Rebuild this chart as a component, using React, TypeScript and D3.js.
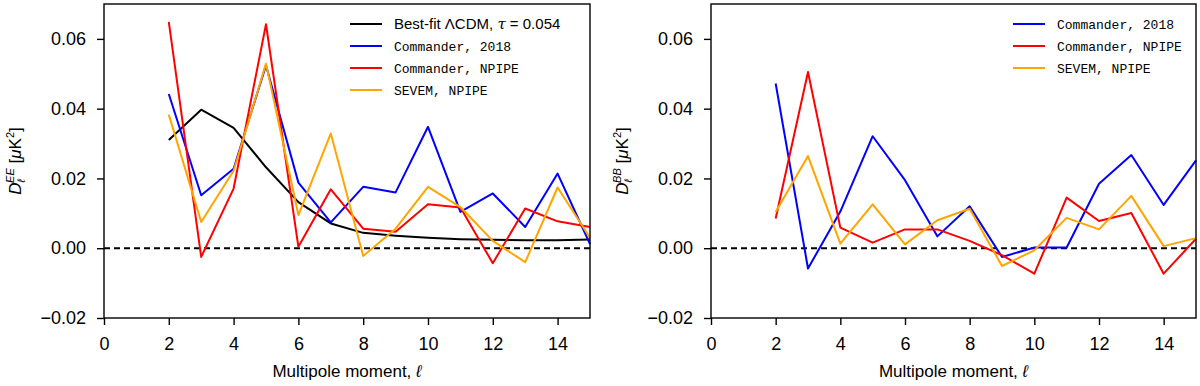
import React, { useRef, useEffect } from "react";
import * as d3 from "d3";

// multipoles
const ell = d3.range(2, 16);

// EE spectra
const eeLcdm = [0.031, 0.0397, 0.0345, 0.0232, 0.0132, 0.0071, 0.0044, 0.0036, 0.003, 0.0026, 0.0024, 0.0023, 0.0023, 0.0025];
const eeComm2018 = [0.0442, 0.0152, 0.0228, 0.0524, 0.0188, 0.0074, 0.0176, 0.016, 0.0348, 0.0104, 0.0157, 0.0061, 0.0214, 0.0012];
const eeCommNpipe = [0.0649, -0.0025, 0.0171, 0.0642, 0.0004, 0.0169, 0.0056, 0.0047, 0.0126, 0.0117, -0.0043, 0.0114, 0.0077, 0.0061];
const eeSevemNpipe = [0.0383, 0.0075, 0.0222, 0.0529, 0.0095, 0.0329, -0.0022, 0.0056, 0.0176, 0.0118, 0.0021, -0.004, 0.0174, 0.003];

// BB spectra
const bbComm2018 = [0.0472, -0.0058, 0.0105, 0.0321, 0.0195, 0.0034, 0.012, -0.0025, 0.0002, 0.0002, 0.0185, 0.0267, 0.0124, 0.0252];
const bbCommNpipe = [0.0085, 0.0505, 0.0059, 0.0016, 0.0054, 0.0054, 0.0021, -0.002, -0.0073, 0.0145, 0.0078, 0.0101, -0.0073, 0.0027];
const bbSevemNpipe = [0.0104, 0.0264, 0.0013, 0.0126, 0.0011, 0.008, 0.0113, -0.0051, -0.0006, 0.0087, 0.0054, 0.015, 0.0006, 0.0029];

const xTicks = [0, 2, 4, 6, 8, 10, 12, 14];
const yTicks = [-0.02, 0.0, 0.02, 0.04, 0.06];

const SANS = "'Liberation Sans', Arial, sans-serif";
const MONO = "'Liberation Mono', 'DejaVu Sans Mono', monospace";

type Series = { label: string; values: number[]; color: string; mono: boolean; math?: boolean };

const panels = [
  {
    left: 104,
    right: 590,
    spec: "EE",
    legendX: 350,
    series: [
      { label: "Best-fit", values: eeLcdm, color: "#000000", mono: false, math: true },
      { label: "Commander, 2018", values: eeComm2018, color: "#0000ff", mono: true },
      { label: "Commander, NPIPE", values: eeCommNpipe, color: "#ff0000", mono: true },
      { label: "SEVEM, NPIPE", values: eeSevemNpipe, color: "#ffa500", mono: true },
    ] as Series[],
  },
  {
    left: 711,
    right: 1196,
    spec: "BB",
    legendX: 1013,
    series: [
      { label: "Commander, 2018", values: bbComm2018, color: "#0000ff", mono: true },
      { label: "Commander, NPIPE", values: bbCommNpipe, color: "#ff0000", mono: true },
      { label: "SEVEM, NPIPE", values: bbSevemNpipe, color: "#ffa500", mono: true },
    ] as Series[],
  },
];

const top = 4;
const bottom = 318;

const App = () => {
  const ref = useRef<SVGSVGElement>(null);

  useEffect(() => {
    const svg = d3.select(ref.current);
    svg.selectAll("*").remove();

    const y = d3.scaleLinear().domain([-0.02, 0.07]).range([bottom, top]);

    panels.forEach((p) => {
      const x = d3.scaleLinear().domain([0, 15]).range([p.left, p.right]);
      const g = svg.append("g");

      // zero line
      g.append("line")
        .attr("x1", p.left)
        .attr("x2", p.right)
        .attr("y1", y(0))
        .attr("y2", y(0))
        .attr("stroke", "#000")
        .attr("stroke-width", 2)
        .attr("stroke-dasharray", "6 4");

      const line = d3
        .line<number>()
        .x((_, i) => x(ell[i]))
        .y((d) => y(d));

      p.series.forEach((s) => {
        g.append("path")
          .attr("d", line(s.values))
          .attr("fill", "none")
          .attr("stroke", s.color)
          .attr("stroke-width", 2)
          .attr("stroke-linejoin", "round");
      });

      // frame
      g.append("rect")
        .attr("x", p.left)
        .attr("y", top)
        .attr("width", p.right - p.left)
        .attr("height", bottom - top)
        .attr("fill", "none")
        .attr("stroke", "#000")
        .attr("stroke-width", 1.4);

      const xAxis = g
        .append("g")
        .attr("transform", `translate(0,${bottom})`)
        .call(d3.axisBottom(x).tickValues(xTicks).tickSize(7).tickPadding(12).tickFormat(d3.format("d")));
      const yAxis = g
        .append("g")
        .attr("transform", `translate(${p.left},0)`)
        .call(
          d3
            .axisLeft(y)
            .tickValues(yTicks)
            .tickSize(7)
            .tickPadding(11)
            .tickFormat((d) => d3.format(".2f")(d as number).replace("-", "\u2212"))
        );
      [xAxis, yAxis].forEach((a) => {
        a.select(".domain").remove();
        a.selectAll("line").attr("stroke", "#000").attr("stroke-width", 1.4);
        a.selectAll("text").attr("font-family", SANS).attr("font-size", 18).attr("fill", "#000");
      });

      // x label
      const xl = g
        .append("text")
        .attr("x", (p.left + p.right) / 2)
        .attr("y", 377)
        .attr("text-anchor", "middle")
        .attr("font-family", SANS)
        .attr("font-size", 17)
        .text("Multipole moment, ");
      xl.append("tspan").attr("font-style", "italic").text("ℓ");

      // y label
      const yl = g
        .append("text")
        .attr("transform", `translate(${p.left - 83},${(top + bottom) / 2}) rotate(-90)`)
        .attr("text-anchor", "middle")
        .attr("font-family", SANS)
        .attr("font-size", 17);
      yl.append("tspan").attr("font-style", "italic").text("D");
      yl.append("tspan").attr("font-style", "italic").attr("font-size", 11).attr("dy", 4).text("ℓ");
      yl.append("tspan").attr("font-style", "italic").attr("font-size", 11).attr("dx", -4).attr("dy", -11).text(p.spec);
      yl.append("tspan").attr("dy", 7).text(" [");
      yl.append("tspan").attr("font-style", "italic").text("μ");
      yl.append("tspan").text("K");
      yl.append("tspan").attr("font-size", 11).attr("dy", -7).text("2");
      yl.append("tspan").attr("dy", 7).text("]");

      // legend
      p.series.forEach((s, i) => {
        const ly = 24 + i * 22;
        g.append("line")
          .attr("x1", p.legendX)
          .attr("x2", p.legendX + 32)
          .attr("y1", ly)
          .attr("y2", ly)
          .attr("stroke", s.color)
          .attr("stroke-width", 2);
        const t = g
          .append("text")
          .attr("x", p.legendX + 44)
          .attr("y", ly + 5)
          .attr("font-family", s.mono ? MONO : SANS)
          .attr("font-size", s.mono ? 13 : 15)
          .text(s.label);
        if (s.math) {
          t.append("tspan").text(" ΛCDM, ");
          t.append("tspan").attr("font-style", "italic").attr("font-family", "'DejaVu Serif', serif").text("τ");
          t.append("tspan").text(" = 0.054");
        }
      });
    });
  }, []);

  return (
    <svg
      ref={ref}
      width={1200}
      height={386}
      style={{ position: "absolute", left: 0, top: 0, background: "#fff" }}
    />
  );
};

export default App;
